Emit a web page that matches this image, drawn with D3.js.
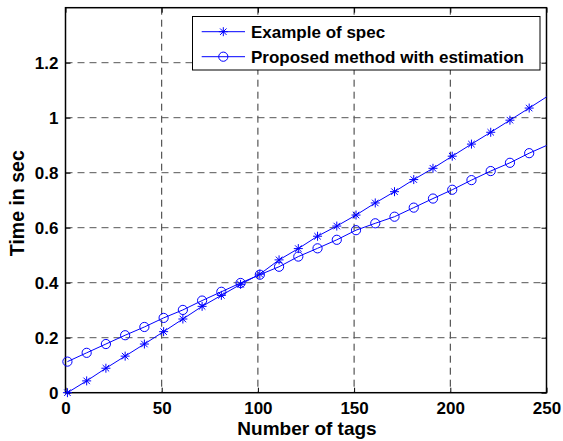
<!DOCTYPE html>
<html>
<head>
<meta charset="utf-8">
<script src="https://cdn.jsdelivr.net/npm/d3@7"></script>
<style>
  body { margin: 0; background: #fff; }
  svg text { font-family: "Liberation Sans", Arial, sans-serif; font-weight: bold; fill: #000; }
</style>
</head>
<body>
<div id="chart"></div>
<script>
// data (markers every 10 tags, starting at 1)
const tags = [1, 11, 21, 31, 41, 51, 61, 71, 81, 91, 101, 111, 121, 131, 141, 151, 161, 171, 181, 191, 201, 211, 221, 231, 241, 251]
const specTime = [0.0, 0.043, 0.089, 0.133, 0.177, 0.222, 0.268, 0.314, 0.354, 0.394, 0.431, 0.483, 0.524, 0.569, 0.606, 0.646, 0.690, 0.731, 0.775, 0.816, 0.860, 0.904, 0.947, 0.991, 1.035, 1.080]
const proposedTime = [0.113, 0.145, 0.177, 0.209, 0.239, 0.272, 0.301, 0.335, 0.367, 0.399, 0.429, 0.458, 0.495, 0.525, 0.556, 0.591, 0.616, 0.640, 0.673, 0.706, 0.738, 0.773, 0.806, 0.836, 0.871, 0.902]
const xTicks = [0, 50, 100, 150, 200, 250]
const yTicks = [0, 0.2, 0.4, 0.6, 0.8, 1, 1.2]
const legendNames = ["Example of spec", "Proposed method with estimation"]

const w = 563
const h = 441
const pLeft = 65.5, pRight = 546.5, pTop = 7.7, pBottom = 392.7
const blue = "#0000ff"

const svg = d3.select("#chart").append("svg")
    .attr("width", w)
    .attr("height", h)

const x = d3.scaleLinear().domain([0, 250]).range([pLeft, pRight])
const y = d3.scaleLinear().domain([0, 1.4]).range([pBottom, pTop])

svg.append("defs").append("clipPath").attr("id", "clip")
    .append("rect")
    .attr("x", pLeft).attr("y", pTop)
    .attr("width", pRight - pLeft).attr("height", pBottom - pTop)

// dashed grid
const grid = svg.append("g")
grid.selectAll(".vgrid")
    .data(xTicks.slice(1, -1))
    .enter().append("line")
    .attr("x1", d => x(d)).attr("x2", d => x(d))
    .attr("y1", pTop).attr("y2", pBottom)
    .style("stroke", "#333")
    .style("stroke-dasharray", "7,5")
grid.selectAll(".hgrid")
    .data(yTicks.slice(1))
    .enter().append("line")
    .attr("x1", pLeft).attr("x2", pRight)
    .attr("y1", d => y(d)).attr("y2", d => y(d))
    .style("stroke", "#555")
    .style("stroke-dasharray", "7,5")

// axes: ticks inside on all four sides like matlab
const tickLen = 5
const xAxis = svg.append("g").attr("transform", `translate(0,${pBottom})`)
    .call(d3.axisBottom(x).tickValues(xTicks).tickSizeInner(-tickLen).tickSizeOuter(0).tickPadding(9))
const yAxis = svg.append("g").attr("transform", `translate(${pLeft},0)`)
    .call(d3.axisLeft(y).tickValues(yTicks).tickFormat(d3.format("~g")).tickSizeInner(-tickLen).tickSizeOuter(0).tickPadding(7))
svg.append("g").attr("transform", `translate(0,${pTop})`)
    .call(d3.axisTop(x).tickValues(xTicks).tickSizeInner(-tickLen).tickSizeOuter(0).tickFormat(""))
svg.append("g").attr("transform", `translate(${pRight},0)`)
    .call(d3.axisRight(y).tickValues(yTicks).tickSizeInner(-tickLen).tickSizeOuter(0).tickFormat(""))

svg.selectAll(".domain").remove()
svg.selectAll(".tick line").style("stroke", "#000")
xAxis.selectAll("text").style("font-size", "17px").style("font-family", null)
yAxis.selectAll("text").style("font-size", "17px").style("font-family", null).attr("dy", "0.36em")

svg.append("rect")
    .attr("x", pLeft).attr("y", pTop)
    .attr("width", pRight - pLeft).attr("height", pBottom - pTop)
    .style("fill", "none")
    .style("stroke", "#000")
    .style("stroke-width", 1.5)

// series
const plot = svg.append("g").attr("clip-path", "url(#clip)")
const line = d3.line().x(d => x(d[0])).y(d => y(d[1]))

const specPts = tags.map((t, i) => [t, specTime[i]])
const propPts = tags.map((t, i) => [t, proposedTime[i]])

function drawStar(g, cx, cy) {
    const r = 4.5, d = r * 0.72
    const p = `M${cx - r},${cy}L${cx + r},${cy}M${cx},${cy - r}L${cx},${cy + r}` +
        `M${cx - d},${cy - d}L${cx + d},${cy + d}M${cx - d},${cy + d}L${cx + d},${cy - d}`
    g.append("path").attr("d", p).style("stroke", blue).style("stroke-width", 1).style("fill", "none")
}

function drawCircle(g, cx, cy) {
    g.append("circle").attr("cx", cx).attr("cy", cy).attr("r", 4.6)
        .style("stroke", blue).style("stroke-width", 1).style("fill", "none")
}

plot.append("path").datum(specPts).attr("d", line)
    .style("fill", "none").style("stroke", blue).style("stroke-width", 1)
plot.append("path").datum(propPts).attr("d", line)
    .style("fill", "none").style("stroke", blue).style("stroke-width", 1)

const marks = svg.append("g")
specPts.filter(d => d[0] <= 250).forEach(d => drawStar(marks, x(d[0]), y(d[1])))
propPts.filter(d => d[0] <= 250).forEach(d => drawCircle(marks, x(d[0]), y(d[1])))

// axis labels
svg.append("text")
    .attr("x", (pLeft + pRight) / 2 + 1).attr("y", 435)
    .attr("text-anchor", "middle")
    .style("font-size", "19px")
    .text("Number of tags")
svg.append("text")
    .attr("transform", `translate(24,${(pTop + pBottom) / 2 + 3}) rotate(-90)`)
    .attr("text-anchor", "middle")
    .style("font-size", "19.5px")
    .text("Time in sec")

// legend
const lg = svg.append("g")
lg.append("rect")
    .attr("x", 192.5).attr("y", 16.5)
    .attr("width", 347.5).attr("height", 53.5)
    .style("fill", "#fff").style("stroke", "#000").style("stroke-width", 1)
legendNames.forEach((name, i) => {
    const ly = 31.7 + i * 25
    lg.append("line").attr("x1", 201.7).attr("x2", 245).attr("y1", ly).attr("y2", ly)
        .style("stroke", blue).style("stroke-width", 1)
    if (i === 0) drawStar(lg, 223.3, ly)
    else drawCircle(lg, 223.3, ly)
    lg.append("text").attr("x", 251).attr("y", ly).attr("dy", "0.36em")
        .style("font-size", "17px")
        .text(name)
})
</script>
</body>
</html>
